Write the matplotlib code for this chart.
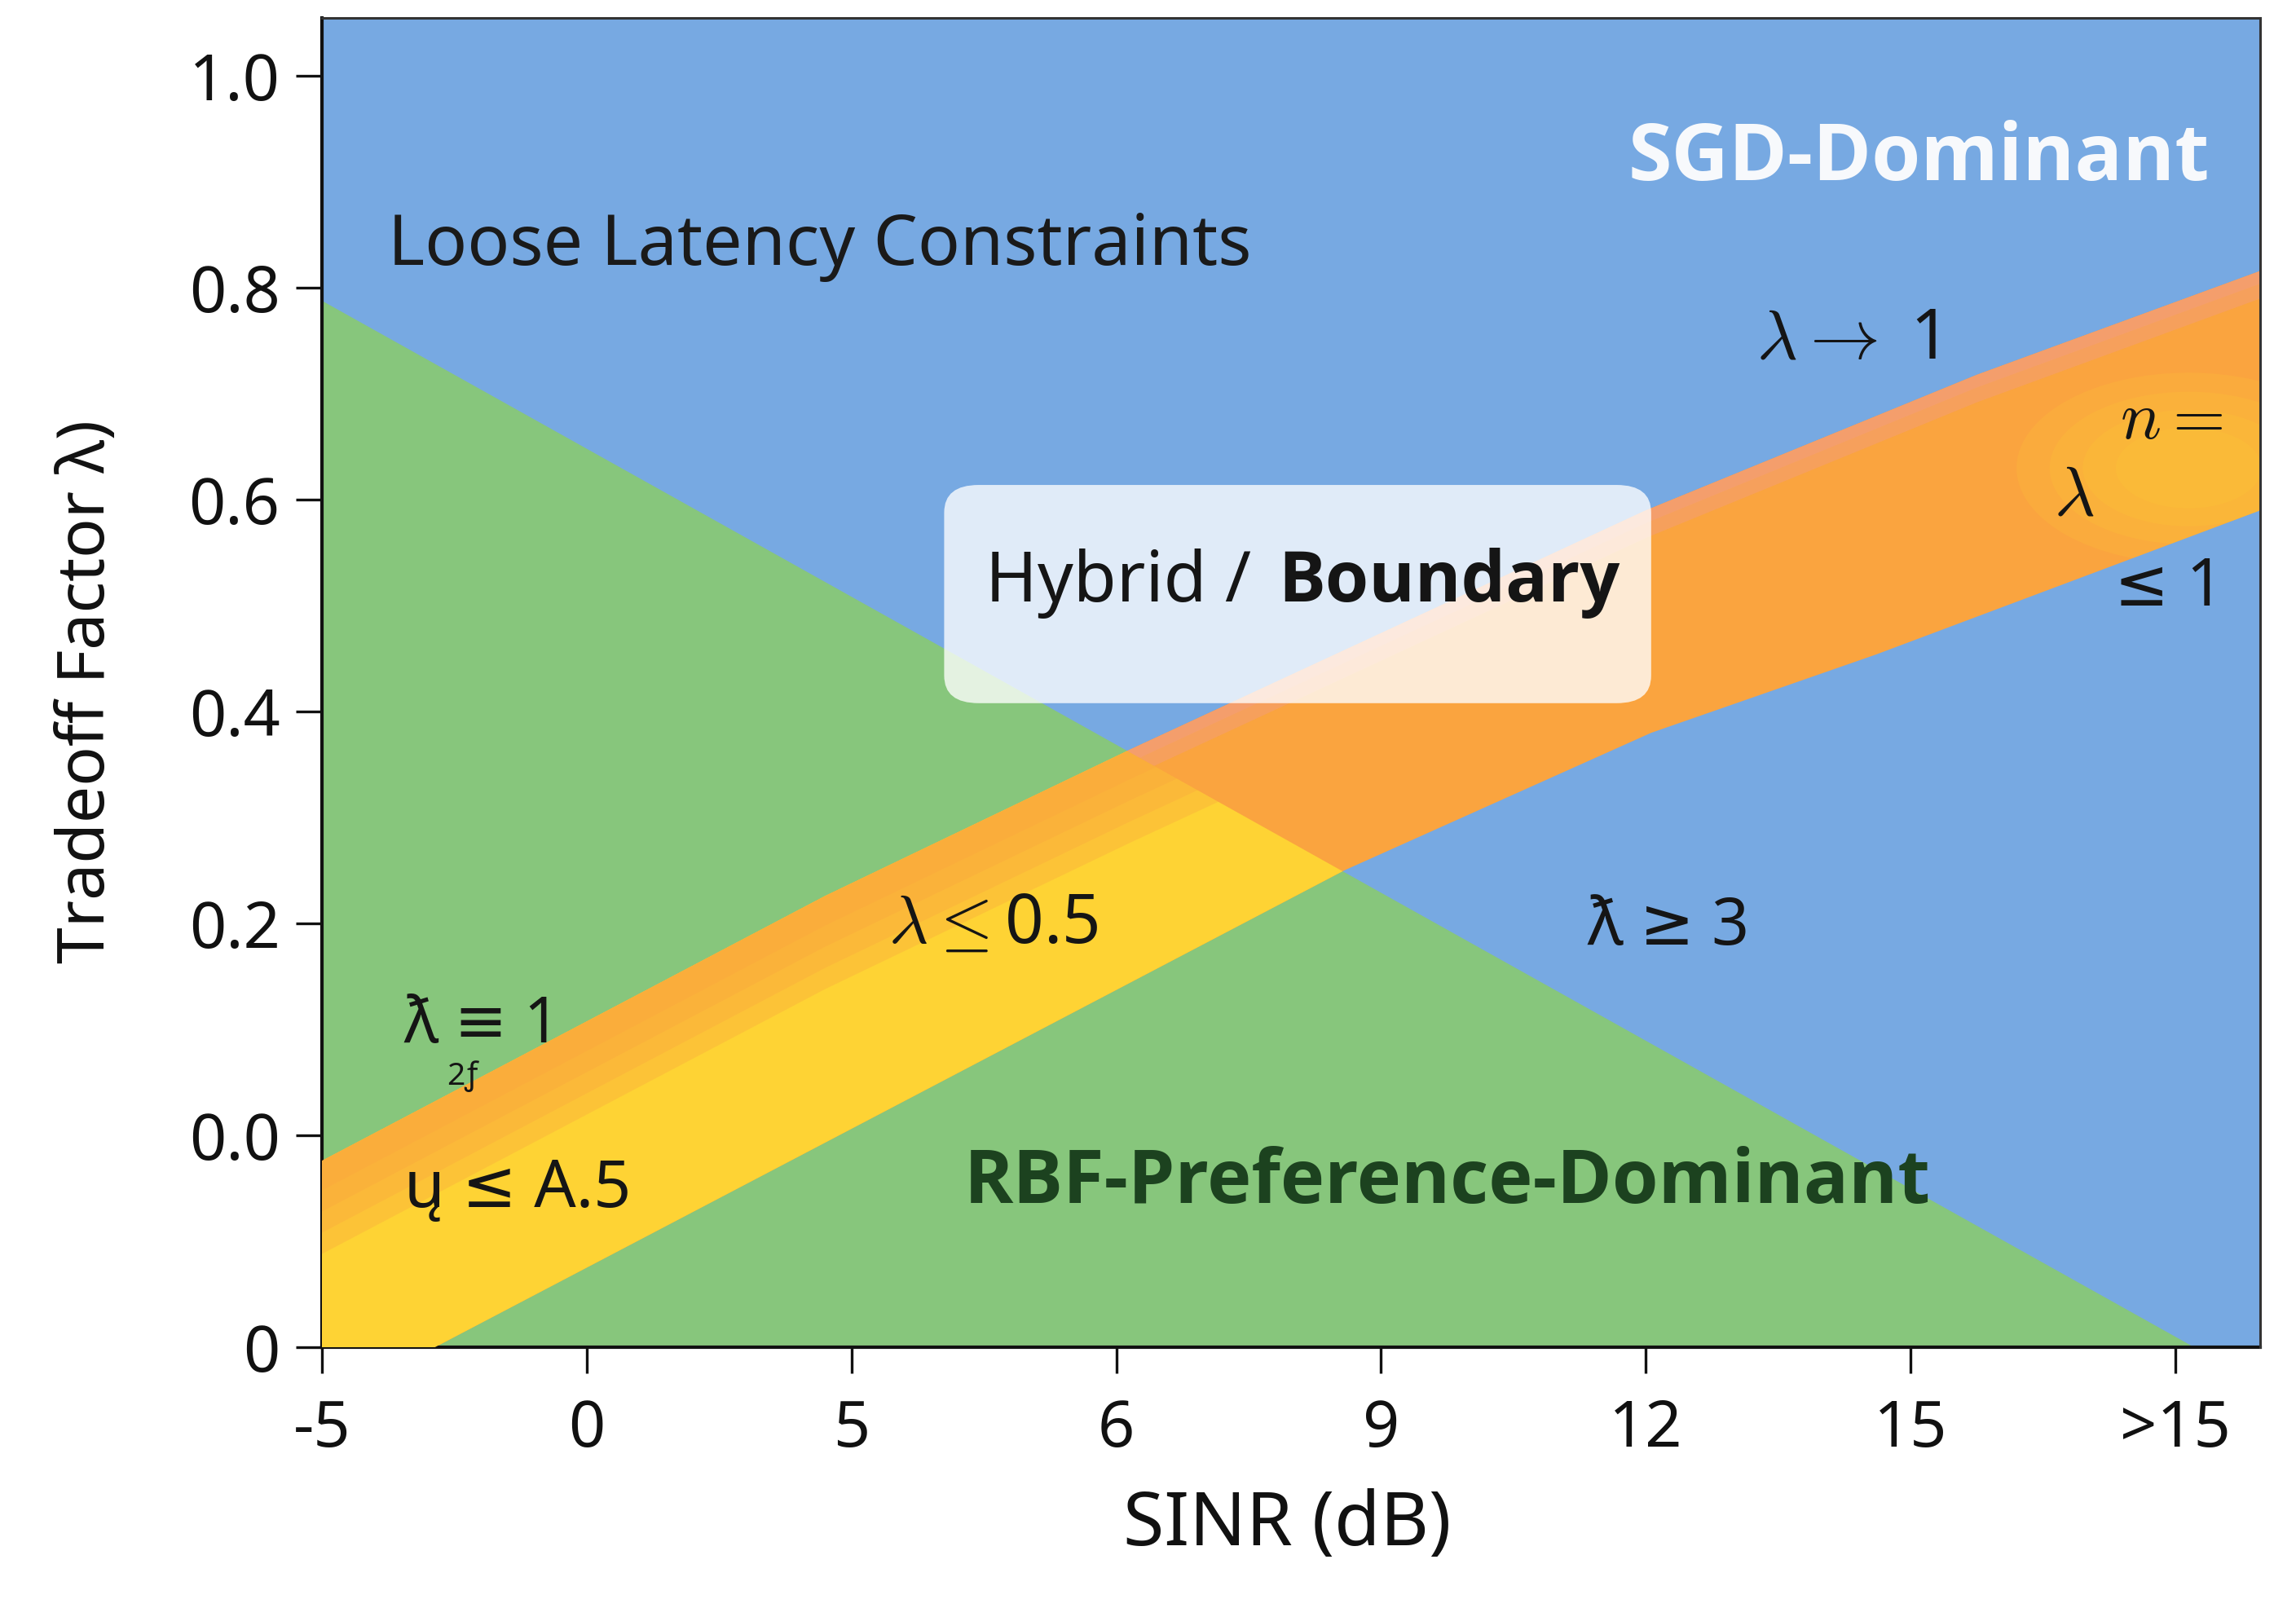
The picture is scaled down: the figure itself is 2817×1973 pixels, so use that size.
import numpy as np
from matplotlib import pyplot as plt
from matplotlib.patches import FancyBboxPatch, Ellipse, Polygon

plt.rcParams['font.family'] = ['Noto Sans', 'DejaVu Sans']
plt.rcParams['mathtext.fontset'] = 'cm'
BOLD_FAMILY = ['Open Sans', 'DejaVu Sans']

# Tick positions / labels (the axis is categorical-ish, evenly spaced)
sinr_labels = ['-5', '0', '5', '6', '9', '12', '15', '>15']
lam_labels = ['0', '0.0', '0.2', '0.4', '0.6', '0.8', '1.0']

# Green (RBF) region: triangle corners in axis units
rbf_x = [0.0, 0.0, 7.07]
rbf_y = [4.94, 0.0, 0.0]

# Boundary band edges
band_up_x = np.array([0.0, 1.9, 3.05, 5.0, 6.25, 7.32])
band_up_y = np.array([0.88, 2.13, 2.82, 3.95, 4.59, 5.08])
band_lo_x = np.array([0.0, 3.86, 5.02, 5.87, 7.32])
band_lo_y = np.array([-0.28, 2.25, 2.90, 3.27, 3.95])

XMAX, YMAX = 7.32, 6.275
BLUE = '#77a9e2'
GREEN = '#87c67c'
ORANGE = '#faa43f'
YELLOW = '#fed334'
PINK = '#f39d80'
INK = '#151515'

fig = plt.figure(figsize=(14.085, 9.865), dpi=200)
fig.patch.set_facecolor('white')
ax = fig.add_axes([0.1402, 0.1622, 0.8442, 0.8267])
ax.set_facecolor(BLUE)
ax.set_xlim(0, XMAX)
ax.set_ylim(0, YMAX)

# regions
tri = ax.fill(rbf_x, rbf_y, color=GREEN, lw=0, zorder=1)[0]
blue_part = Polygon([[0, 4.94], [7.07, 0], [XMAX, 0], [XMAX, YMAX], [0, YMAX]],
                    closed=True, transform=ax.transData, facecolor='none', edgecolor='none')
ax.add_patch(blue_part)

bx = np.r_[band_up_x, band_lo_x[::-1]]
by = np.r_[band_up_y, band_lo_y[::-1]]
band = ax.fill(bx, by, color=ORANGE, lw=0, zorder=2)[0]
yel = ax.fill(bx, by, color=YELLOW, lw=0, zorder=3)[0]
yel.set_clip_path(tri)

# soft orange strip along the upper edge of the band
for w in [0.14, 0.24, 0.34, 0.44]:
    s = ax.fill(np.r_[band_up_x, band_up_x[::-1]],
                np.r_[band_up_y, (band_up_y - w)[::-1]],
                color=ORANGE, lw=0, alpha=0.32, zorder=4)[0]
    s.set_clip_path(band)

# pinkish rim where the band meets the blue area
for w in [0.06, 0.13]:
    s = ax.fill(np.r_[band_up_x, band_up_x[::-1]],
                np.r_[band_up_y, (band_up_y - w)[::-1]],
                color=PINK, lw=0, alpha=0.45, zorder=5)[0]
    s.set_clip_path(blue_part)

# yellow glow at the right end of the band
for (w, h) in [(1.3, 0.9), (1.05, 0.72), (0.8, 0.55), (0.55, 0.38)]:
    glow = Ellipse((7.05, 4.15), w, h, color=YELLOW, alpha=0.16, lw=0, zorder=5)
    ax.add_patch(glow)
    glow.set_clip_path(band)

# hybrid box
box = FancyBboxPatch((2.35, 3.04), 2.67, 1.03,
                     boxstyle='round,pad=0,rounding_size=0.13',
                     facecolor='white', alpha=0.78, edgecolor='none', zorder=6)
ax.add_patch(box)
ax.text(3.51, 3.52, 'Hybrid /', ha='right', va='baseline', fontsize=31,
        color=INK, zorder=7)
ax.text(3.61, 3.52, 'Boundary', ha='left', va='baseline', fontsize=31,
        family=BOLD_FAMILY, fontweight='bold', color=INK, zorder=7)

# region labels
ax.text(0.25, 5.11, 'Loose Latency Constraints', ha='left', va='baseline',
        fontsize=31, color='#1a1a1a', zorder=7)
ax.text(7.13, 5.51, 'SGD-Dominant', ha='right', va='baseline', fontsize=35,
        family=BOLD_FAMILY, fontweight='bold', color='#f7f9fc', zorder=7)
ax.text(4.25, 0.68, 'RBF-Preference-Dominant', ha='center', va='baseline',
        fontsize=33, family=BOLD_FAMILY, fontweight='bold', color='#1c421f', zorder=7)

# lambda annotations
ax.text(5.76, 4.67, r'$\lambda\rightarrow$ 1', ha='center', va='baseline',
        fontsize=31, color=INK, zorder=7)
ax.text(6.79, 4.29, r'$n =$', ha='left', va='baseline', fontsize=30,
        color=INK, zorder=7)
ax.text(6.54, 3.93, r'$\lambda$', ha='left', va='baseline', fontsize=31,
        color=INK, zorder=7)
ax.text(6.77, 3.50, '≤ 1', ha='left', va='baseline', fontsize=29,
        color=INK, zorder=7)
ax.text(2.14, 1.91, r'$\lambda \leq$0.5', ha='left', va='baseline', fontsize=30,
        color=INK, zorder=7)
ax.text(4.78, 1.90, 'ƛ ≥ 3', ha='left', va='baseline', fontsize=29,
        color=INK, zorder=7)
ax.text(0.31, 1.44, 'ƛ ≡ 1', ha='left', va='baseline', fontsize=28,
        color=INK, zorder=7)
ax.text(0.47, 1.24, '2ƒ', ha='left', va='baseline', fontsize=14,
        color=INK, zorder=7)
ax.text(0.31, 0.66, 'ų ≤ A.5', ha='left', va='baseline', fontsize=29,
        color=INK, zorder=7)

# axes styling
ax.set_xticks(range(len(sinr_labels)))
ax.set_xticklabels(sinr_labels)
ax.set_yticks(range(len(lam_labels)))
ax.set_yticklabels(lam_labels)
ax.tick_params(axis='both', direction='out', length=11.5, width=1.2,
               labelsize=28.5, colors='#111111')
ax.tick_params(axis='x', pad=11)
ax.tick_params(axis='y', pad=7)
for side in ['left', 'bottom']:
    ax.spines[side].set_linewidth(1.5)
    ax.spines[side].set_color('#111111')
for side in ['top', 'right']:
    ax.spines[side].set_linewidth(1.1)
    ax.spines[side].set_color('#333333')
    ax.spines[side].set_zorder(8)

ax.set_xlabel('SINR (dB)', fontsize=33, color='#111111')
ax.xaxis.label.set_va('center')
ax.xaxis.set_label_coords(0.498, -0.134)
ax.set_ylabel('Tradeoff Factor λ)', fontsize=29, color='#111111')
ax.yaxis.label.set_va('center')
ax.yaxis.set_label_coords(-0.121, 0.493)

plt.savefig('out.png', dpi=200)
